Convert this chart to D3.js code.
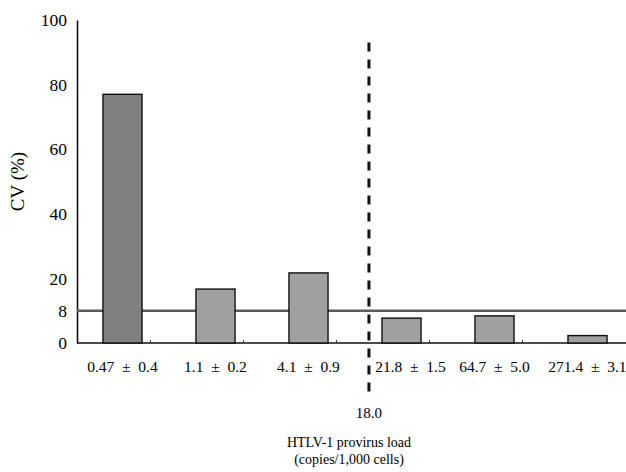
<!DOCTYPE html>
<html>
<head>
<meta charset="utf-8">
<script src="https://cdn.jsdelivr.net/npm/d3@7"></script>
<style>
  body { margin: 0; background: #fff; }
  svg { display: block; font-family: "Liberation Serif", "DejaVu Serif", serif; }
</style>
</head>
<body>
<svg id="chart"></svg>
<script>
// categories = provirus load groups (mean ± SD), values = CV (%)
const categories = ["0.47 ± 0.4", "1.1 ± 0.2", "4.1 ± 0.9", "21.8 ± 1.5", "64.7 ± 5.0", "271.4 ± 3.1"];
const cvValues = [77, 16.7, 21.7, 7.7, 8.4, 2.3];
const barFills = ["#808080", "#a0a0a0", "#a0a0a0", "#a0a0a0", "#a0a0a0", "#a0a0a0"];
const yTickValues = [0, 10, 20, 40, 60, 80, 100];
const yTickLabels = ["0", "8", "20", "40", "60", "80", "100"];
const cvThreshold = 10;      // horizontal reference line (labelled 8)
const cutoffLabel = "18.0";  // provirus load cut-off
const cutoffTop = 93;

const width = 626, height = 472;
const margin = {top: 20, right: 0, bottom: 129, left: 77};

const svg = d3.select("#chart").attr("width", width).attr("height", height);

const x = d3.scaleBand()
    .domain(categories)
    .range([76, 634])
    .paddingInner(0.58)
    .paddingOuter(0.29);
const y = d3.scaleLinear()
    .domain([0, 100])
    .range([height - margin.bottom, margin.top]);

// y axis
const yAxis = svg.append("g")
    .attr("transform", `translate(${margin.left},0)`)
    .call(d3.axisLeft(y).tickValues(yTickValues).tickSize(0).tickPadding(10)
        .tickFormat((d, i) => yTickLabels[i]));
yAxis.select(".domain").attr("stroke", "#111").attr("stroke-width", 1.6);
yAxis.selectAll("text").attr("font-size", 17.5).attr("fill", "#000")
    .attr("font-family", "Liberation Serif");

// x axis
const xAxis = svg.append("g")
    .attr("transform", `translate(0,${y(0)})`);
xAxis.append("line")
    .attr("x1", margin.left).attr("x2", width)
    .attr("stroke", "#111").attr("stroke-width", 1.6);
// small ticks between groups
xAxis.selectAll(".sep")
    .data(categories.slice(1))
    .enter().append("line")
    .attr("x1", d => x(d) - x.step() * x.paddingInner() / 2 - x.bandwidth() / 2 + 1)
    .attr("x2", d => x(d) - x.step() * x.paddingInner() / 2 - x.bandwidth() / 2 + 1)
    .attr("y1", 0).attr("y2", -3)
    .attr("stroke", "#333").attr("stroke-width", 1);
xAxis.selectAll(".lab")
    .data(categories)
    .enter().append("text")
    .attr("x", d => x(d) + x.bandwidth() / 2 + (categories.indexOf(d) === 3 ? 9 : 0))
    .attr("y", 29)
    .attr("text-anchor", "middle")
    .attr("font-size", 15.5)
    .attr("fill", "#000")
    .style("white-space", "pre")
    .text(d => d.replace(" ± ", "  ±  "));

// horizontal reference line
svg.append("line")
    .attr("x1", margin.left).attr("x2", width)
    .attr("y1", y(cvThreshold)).attr("y2", y(cvThreshold))
    .attr("stroke", "#5a5a5a").attr("stroke-width", 2.6);

// bars
svg.selectAll(".bar")
    .data(cvValues)
    .enter().append("rect")
    .attr("x", (d, i) => x(categories[i]))
    .attr("y", d => y(d))
    .attr("width", x.bandwidth())
    .attr("height", d => y(0) - y(d))
    .attr("fill", (d, i) => barFills[i])
    .attr("stroke", "#111")
    .attr("stroke-width", 1.4);

// cut-off dashed line
const cutX = x(categories[3]) - x.step() * 0.14;
svg.append("line")
    .attr("x1", cutX).attr("x2", cutX)
    .attr("y1", y(cutoffTop)).attr("y2", y(0) + 50)
    .attr("stroke", "#111").attr("stroke-width", 3)
    .attr("stroke-dasharray", "9,8");
svg.append("text")
    .attr("x", cutX).attr("y", 418)
    .attr("text-anchor", "middle")
    .attr("font-size", 15).attr("fill", "#000")
    .text(cutoffLabel);

// axis titles
svg.append("text")
    .attr("transform", `translate(24,${(y(0) + y(100)) / 2}) rotate(-90)`)
    .attr("text-anchor", "middle")
    .attr("font-size", 19).attr("fill", "#000")
    .text("CV (%)");
svg.append("text")
    .attr("x", 349).attr("y", 447)
    .attr("text-anchor", "middle")
    .attr("font-size", 14).attr("fill", "#000")
    .text("HTLV-1 provirus load");
svg.append("text")
    .attr("x", 349).attr("y", 464)
    .attr("text-anchor", "middle")
    .attr("font-size", 14).attr("fill", "#000")
    .text("(copies/1,000 cells)");
</script>
</body>
</html>
